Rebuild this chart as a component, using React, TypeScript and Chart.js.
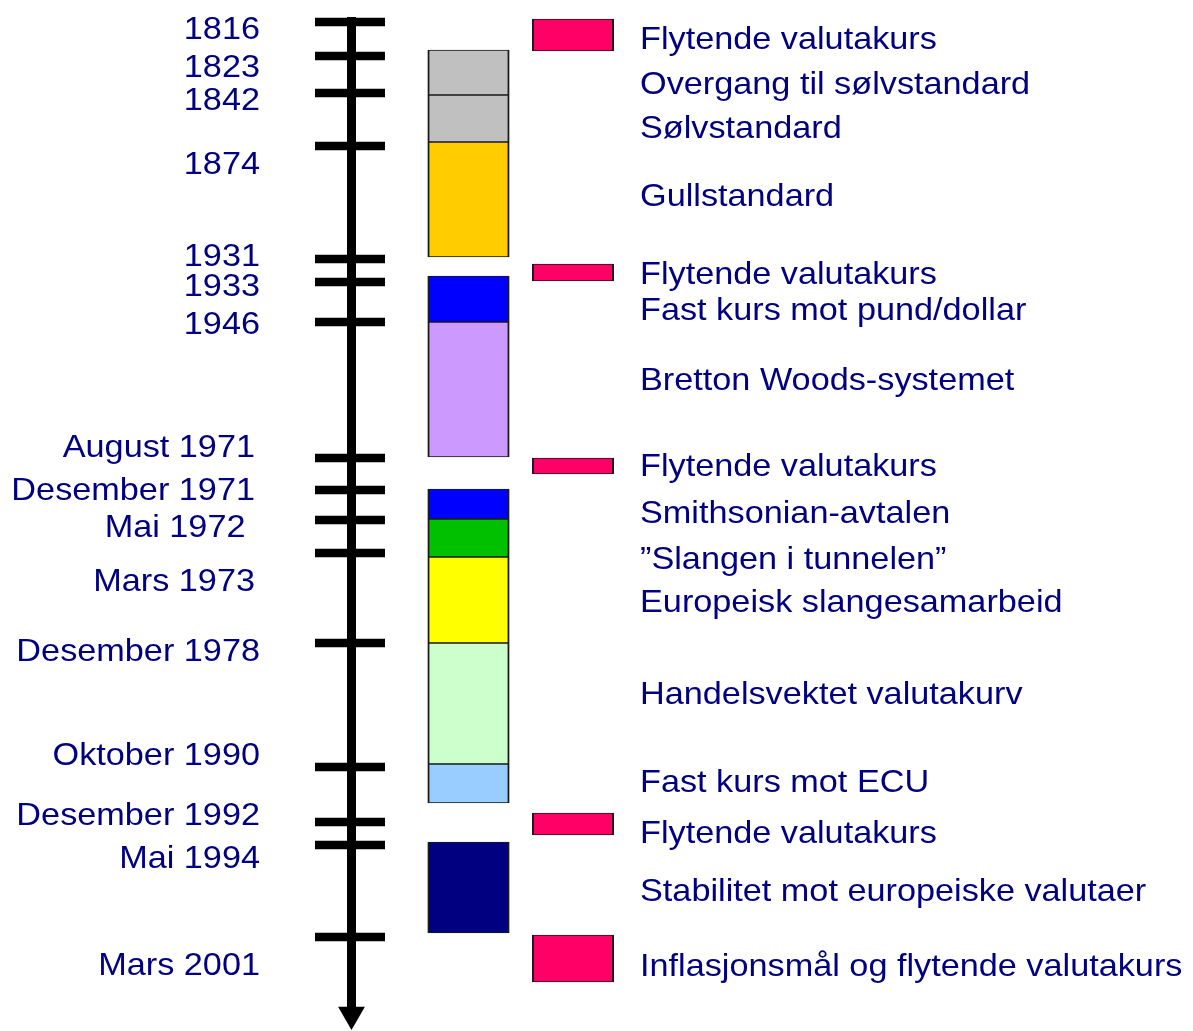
import { useEffect, useRef } from 'react';
import { Chart, registerables } from 'chart.js';

Chart.register(...registerables);

// ---- Data: events on the timeline (position along the timeline axis) ----
const eventLabels = ['1816', '1823', '1842', '1874', '1931', '1933', '1946', 'August 1971', 'Desember 1971', 'Mai 1972 ', 'Mars 1973', 'Desember 1978', 'Oktober 1990', 'Desember 1992', 'Mai 1994', 'Mars 2001'];
const eventMarks = [22, 56, 93, 146, 259, 282, 322, 458, 490, 520, 553, 643, 767, 822, 845, 937];
const eventLabelAt = [27.5, 66, 99, 163, 255, 285, 323, 446, 489, 526, 580, 650, 753.5, 813.5, 857, 963.5];

// ---- Data: exchange-rate regimes (boxes) ----
const periodStart = [50, 95, 142, 276, 322, 489, 519, 557, 643, 764, 842];
const periodEnd = [95, 142, 257, 322, 457, 519, 557, 643, 764, 803, 933];
const periodColors = ['#C0C0C0', '#C0C0C0', '#FFCC00', '#0000FF', '#CC99FF', '#0000FF', '#00C000', '#FFFF00', '#CCFFCC', '#99CCFF', '#000080'];

// ---- Data: floating-rate markers ----
const floatStart = [19, 264, 458, 813, 935];
const floatEnd = [51, 281, 474, 835, 982];
const floatColor = '#FF0066';

// ---- Data: regime descriptions ----
const regimeNames = [
  'Flytende valutakurs',
  'Overgang til sølvstandard',
  'Sølvstandard',
  'Gullstandard',
  'Flytende valutakurs',
  'Fast kurs mot pund/dollar',
  'Bretton Woods-systemet',
  'Flytende valutakurs',
  'Smithsonian-avtalen',
  '”Slangen i tunnelen”',
  'Europeisk slangesamarbeid',
  'Handelsvektet valutakurv',
  'Fast kurs mot ECU',
  'Flytende valutakurs',
  'Stabilitet mot europeiske valutaer',
  'Inflasjonsmål og flytende valutakurs',
];
const regimeAt = [38, 83, 127, 195, 272.5, 308.5, 378.5, 465, 512, 558, 600.5, 693, 781, 832, 890, 965];

// ---- Layout ----
const W = 1193;
const H = 1031;
const AXIS_X = 351.5;
const AXIS_TOP = 17;
const AXIS_END = 1008;
const ARROW_AT = 1014.5;
const BOX_X = 468.5;
const KEY_X = 573;
const LABEL_RIGHT = 260;
const LABEL_RIGHT_MID = 255;
const TEXT_LEFT = 640;
const FONT_SIZE = 32;
const TEXT_STRETCH = 1.07;
const TEXT_COLOR = '#000080';

export default function App() {
  const ref = useRef<HTMLCanvasElement>(null);

  useEffect(() => {
    document.body.style.margin = '0';
    const canvas = ref.current;
    if (!canvas) return;

    const rects = [
      ...periodStart.map((s, i) => ({ x: BOX_X, y: [s, periodEnd[i]] })),
      ...floatStart.map((s, i) => ({ x: KEY_X, y: [s, floatEnd[i]] })),
    ];
    const rectColors = [...periodColors, ...floatStart.map(() => floatColor)];

    const textPlugin = {
      id: 'timelineText',
      afterDatasetsDraw(chart: any) {
        const ctx = chart.ctx as CanvasRenderingContext2D;
        const xs = chart.scales.x;
        const ys = chart.scales.y;
        const shift = FONT_SIZE * 0.358;
        ctx.save();
        ctx.font = `${FONT_SIZE}px "Liberation Sans", Arial, sans-serif`;
        ctx.fillStyle = TEXT_COLOR;
        ctx.textBaseline = 'alphabetic';
        const draw = (t: string, x: number, y: number, align: CanvasTextAlign) => {
          ctx.save();
          ctx.translate(x, y);
          ctx.scale(TEXT_STRETCH, 1);
          ctx.textAlign = align;
          ctx.fillText(t, 0, 0);
          ctx.restore();
        };
        eventLabels.forEach((t, i) => {
          const right = i >= 7 && i <= 10 ? LABEL_RIGHT_MID : LABEL_RIGHT;
          draw(t, xs.getPixelForValue(right), ys.getPixelForValue(eventLabelAt[i]) + shift, 'right');
        });
        regimeNames.forEach((t, i) => {
          draw(t, xs.getPixelForValue(TEXT_LEFT), ys.getPixelForValue(regimeAt[i]) + shift, 'left');
        });
        ctx.restore();
      },
    };

    const chart = new Chart(canvas, {
      type: 'bar',
      data: {
        datasets: [
          {
            type: 'bar',
            data: rects as any,
            backgroundColor: rectColors,
            borderColor: '#1a1a1a',
            borderWidth: { top: 1.2, bottom: 1.2, left: 2, right: 2 } as any,
            borderSkipped: false,
            barThickness: 81.5,
            clip: false as any,
            order: 3,
          },
          {
            type: 'line',
            data: [
              { x: AXIS_X, y: AXIS_TOP },
              { x: AXIS_X, y: AXIS_END },
            ],
            borderColor: '#000',
            borderWidth: 9,
            borderCapStyle: 'butt',
            pointRadius: 0,
            clip: false as any,
            order: 2,
          },
          {
            type: 'line',
            data: eventMarks.map((m) => ({ x: AXIS_X - 1.5, y: m })),
            showLine: false,
            pointStyle: 'line',
            pointRadius: 35,
            pointBorderWidth: 8.5,
            pointBorderColor: '#000',
            pointBackgroundColor: '#000',
            clip: false as any,
            order: 1,
          },
          {
            type: 'line',
            data: [{ x: AXIS_X, y: ARROW_AT }],
            showLine: false,
            pointStyle: 'triangle',
            pointRotation: 180,
            pointRadius: 15.5,
            pointBorderWidth: 0,
            pointBackgroundColor: '#000',
            clip: false as any,
            order: 0,
          },
        ] as any,
      },
      options: {
        responsive: false,
        animation: false,
        events: [],
        layout: { padding: 0, autoPadding: false },
        plugins: { legend: { display: false }, tooltip: { enabled: false } },
        scales: {
          x: { type: 'linear', min: 0, max: W, display: false, offset: false },
          y: { type: 'linear', min: 0, max: H, reverse: true, display: false, stacked: false },
        },
      },
      plugins: [textPlugin],
    });

    return () => chart.destroy();
  }, []);

  return <canvas ref={ref} width={W} height={H} style={{ display: 'block' }} />;
}
